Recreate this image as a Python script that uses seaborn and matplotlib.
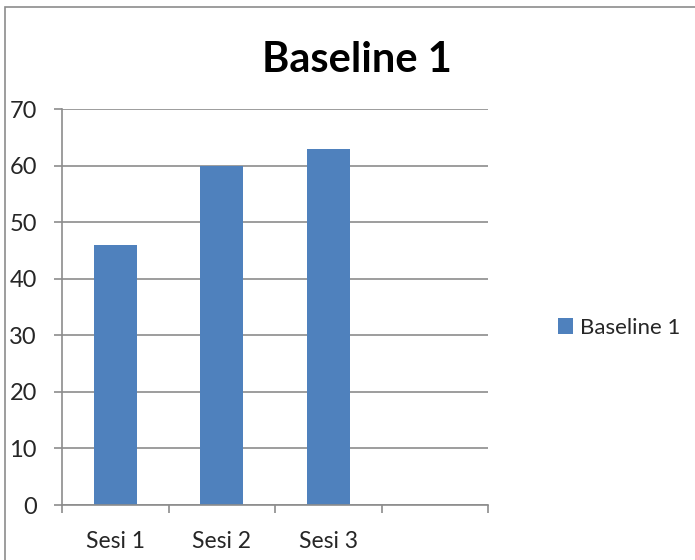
import matplotlib
matplotlib.use("Agg")
import matplotlib.pyplot as plt
import seaborn as sns
import pandas as pd
from matplotlib.patches import Rectangle, Patch

categories = ["Sesi 1", "Sesi 2", "Sesi 3"]
values = [46, 60, 63]
series_name = "Baseline 1"
yticks = [0, 10, 20, 30, 40, 50, 60, 70]

sns.set_theme(style="white")
plt.rcParams['font.family'] = ['Lato', 'DejaVu Sans']

fig = plt.figure(figsize=(6.95, 5.6), dpi=100)
ax = fig.add_axes([62/695, 55/560, (488-62)/695, (505-109)/560])

df = pd.DataFrame({"cat": categories, "val": values})
color = "#4F81BD"
sns.barplot(data=df, x="cat", y="val", color=color, width=0.4, ax=ax,
            saturation=1, edgecolor="none", linewidth=0)

ax.set_xlim(-0.5, 3.5)
ax.set_ylim(0, 70)
ax.set_yticks(yticks)
ax.set_yticklabels([str(t) for t in yticks], fontsize=17)
for t in yticks:
    ax.axhline(t, color="#8C8C8C", lw=1.2, zorder=0)

ax.set_xticks([-0.5, 0.5, 1.5, 2.5, 3.5])
ax.set_xticklabels([])
ax.set_xticks([0, 1, 2], minor=True)
ax.set_xticklabels(categories, minor=True, fontsize=16.5)
ax.tick_params(axis="x", which="major", length=6, width=1.2, color="#8C8C8C", direction="out", bottom=True)
ax.tick_params(axis="x", which="minor", length=0, pad=19)
ax.tick_params(axis="y", length=6, width=1.2, color="#8C8C8C", direction="out", left=True, pad=12)
ax.set_xlabel("")
ax.set_ylabel("")

for s in ["top", "right"]:
    ax.spines[s].set_visible(False)
for s in ["left", "bottom"]:
    ax.spines[s].set_color("#8C8C8C")
    ax.spines[s].set_linewidth(1.2)

fig.text(357/695, 1 - 60/560, series_name, ha="center", va="center",
         fontsize=30, fontweight="bold", color="black")

handles = [Patch(facecolor=color, edgecolor="none", label=series_name)]
fig.legend(handles=handles, loc="center left", bbox_to_anchor=(549/695, 1 - 328/560),
           frameon=False, fontsize=16, handlelength=0.7, handleheight=0.7,
           handletextpad=0.3, borderaxespad=0)

fig.patches.append(Rectangle((5/695, -0.1), 1.2, 1.1 - 7/560, transform=fig.transFigure,
                             fill=False, edgecolor="#8C8C8C", lw=1.2))

fig.savefig("out.png", dpi=100)
